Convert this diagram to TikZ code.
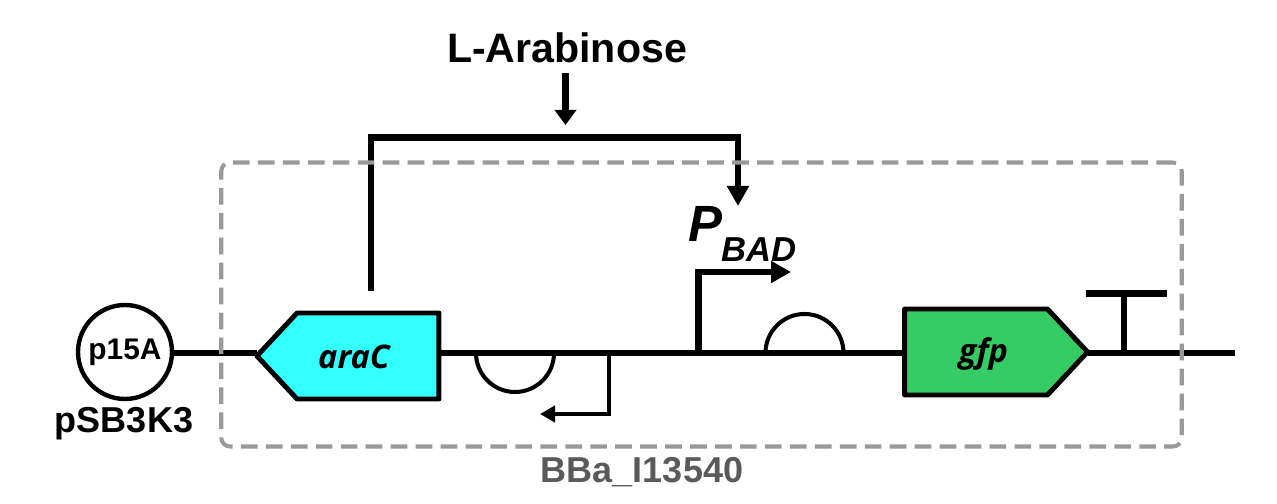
\documentclass[tikz,border=0pt]{standalone}
\usepackage{fontspec}
\setsansfont{Liberation Sans}
\newfontfamily\genefont{Open Sans}
\usetikzlibrary{arrows.meta,positioning,shapes.symbols}
\definecolor{araCFill}{RGB}{51,255,255}
\definecolor{gfpFill}{RGB}{53,204,102}
\definecolor{deviceStroke}{RGB}{153,153,153}
\definecolor{deviceText}{RGB}{90,90,90}
\tikzset{
  wire/.style={draw=black, line width=3.9pt},
  thinwire/.style={draw=black, line width=2.3pt},
  arrow/.style={-{Triangle[length=0.4cm,width=0.42cm]}, draw=black, line width=3.9pt},
  inducerarrow/.style={-{Triangle[length=0.3cm,width=0.42cm]}, draw=black, line width=3.9pt},
  smallarrow/.style={-{Triangle[length=0.3cm,width=0.32cm]}, draw=black, line width=2.8pt},
  gene/.style={
    signal,
    signal pointer angle=94,
    draw=black,
    line width=2.8pt,
    line join=round,
    outer sep=0pt,
    inner sep=0pt,
    minimum height=1.72cm
  },
  genelabel/.style={inner sep=0pt, font=\genefont\bfseries\itshape\fontsize{18.5}{22}\selectfont},
  origin/.style={
    circle,
    draw=black,
    line width=2.5pt,
    outer sep=0pt,
    inner sep=0pt,
    minimum size=1.88cm,
    font=\sffamily\bfseries\fontsize{17}{20}\selectfont
  },
  device/.style={
    rectangle,
    rounded corners=5pt,
    draw=deviceStroke,
    line width=2.3pt,
    dash pattern=on 9.5pt off 4.7pt,
    outer sep=0pt,
    minimum width=19.21cm,
    minimum height=5.68cm
  },
  label/.style={font=\sffamily\bfseries\fontsize{20.5}{24}\selectfont, inner sep=0pt}
}

\begin{document}
\begin{tikzpicture}[x=1cm,y=1cm]
  \useasboundingbox (0,0) rectangle (25.54,10.08);

  \node[origin] (p15A) at (2.5,3.04) {p15A};
  \node[label] (pSB3K3) at (2.48,1.6) {pSB3K3};

  \node[gene, signal to=west, fill=araCFill, minimum width=3.64cm] (araC) at (7.36,2.96) {};
  \node[genelabel] (araCLabel) at (7.08,2.94) {araC};
  \node[gene, signal to=east, fill=gfpFill, minimum width=3.66cm] (gfp) at (19.52,3.04) {};
  \node[genelabel] (gfpLabel) at (19.67,3.0) {gfp};
  \coordinate (backboneEnd) at (24.7,3.02);

  \draw[wire] (p15A.east |- 0,3.02) -- (araC.west |- 0,3.02);
  \draw[wire] (araC.east |- 0,3.02) -- (gfp.west |- 0,3.02);
  \draw[wire] (gfp.east |- 0,3.02) -- (backboneEnd);

  \coordinate (revStart) at (9.52,3.02);
  \draw[thinwire] (revStart) arc[start angle=180, end angle=360, radius=0.78];
  \coordinate (fwdStart) at (15.31,3.02);
  \draw[thinwire] (fwdStart) arc[start angle=180, end angle=0, radius=0.78];

  \coordinate (revBase) at (12.18,3.02);
  \coordinate (revTip) at (10.8,1.8);
  \draw[smallarrow] (revBase) |- (revTip);

  \coordinate (fwdBase) at (13.97,3.02);
  \coordinate (fwdTip) at (15.82,4.64);
  \draw[arrow] (fwdBase) |- (fwdTip);

  \coordinate (termBase) at (22.48,3.02);
  \coordinate (termTop) at (22.48,4.21);
  \coordinate (termLeft) at (21.72,4.21);
  \coordinate (termRight) at (23.34,4.21);
  \draw[wire] (termBase) -- (termTop);
  \draw[wire] (termLeft) -- (termRight);

  \node[inner sep=0pt, font=\sffamily\bfseries\itshape\fontsize{29}{32}\selectfont] (pBad) at (14.1,5.6) {P};
  \node[inner sep=0pt, font=\sffamily\bfseries\itshape\fontsize{19.7}{22}\selectfont] (bad) at (15.18,5.08) {BAD};

  \coordinate (armBase) at (7.42,4.26);
  \coordinate (armCorner) at (14.76,7.33);
  \coordinate (armTip) at (14.76,5.96);
  \draw[arrow] (armBase) |- (armCorner) -- (armTip);

  \node[inner sep=0.2cm, font=\sffamily\bfseries\fontsize{23.4}{27}\selectfont] (arabinose) at (11.34,9.12) {L-Arabinose};
  \coordinate (armTop) at (11.31,7.58);
  \draw[inducerarrow] (arabinose.south -| armTop) -- (armTop);

  \node[device] (bba) at (14.03,3.99) {};
  \node[label, text=deviceText] (bbaLabel) at (12.84,0.63) {BBa\_I13540};
\end{tikzpicture}
\end{document}
